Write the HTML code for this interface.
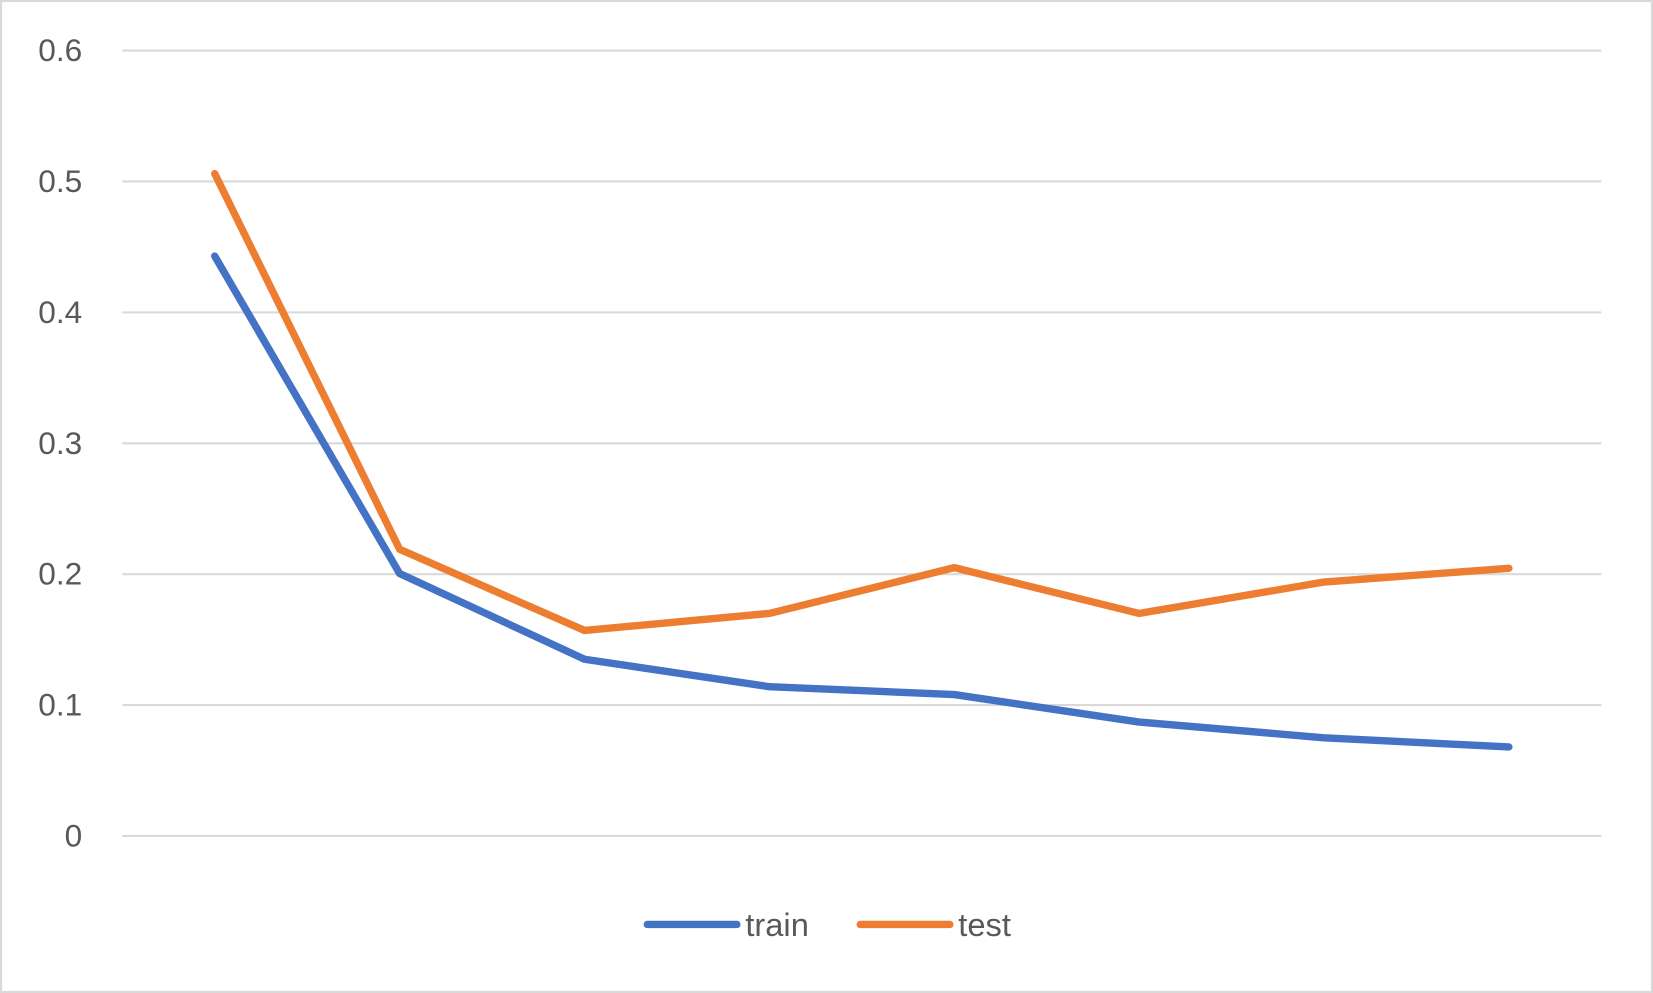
<!DOCTYPE html>
<html><head><meta charset="utf-8"><style>
html,body{margin:0;padding:0;background:#fff}
svg{display:block}
text{font-family:"Liberation Sans",sans-serif;fill:#595959}
</style></head><body>
<svg id="chart" width="1653" height="993" viewBox="0 0 1568 942" preserveAspectRatio="none" xmlns="http://www.w3.org/2000/svg">
<rect x="1" y="1" width="1566" height="940" fill="#fff" stroke="#d9d9d9" stroke-width="2"/>
<g id="grid"></g><g id="series"></g>
<g>
<line x1="614" y1="877" x2="699" y2="877" stroke="#4472C4" stroke-width="7" stroke-linecap="round"/>
<text x="707" y="888" font-size="31">train</text>
<line x1="816" y1="877" x2="901" y2="877" stroke="#ED7D31" stroke-width="7" stroke-linecap="round"/>
<text x="909" y="888" font-size="31">test</text>
</g>
</svg>
<script>
const categories=[1,2,3,4,5,6,7,8];
const trainValues=[0.443,0.2005,0.135,0.114,0.108,0.087,0.075,0.068];
const testValues=[0.506,0.219,0.157,0.170,0.205,0.170,0.194,0.2045];
const yTicks=[0,0.1,0.2,0.3,0.4,0.5,0.6];
const tickLabels=["0","0.1","0.2","0.3","0.4","0.5","0.6"];
const NS="http://www.w3.org/2000/svg";
const X0=116,X1=1519,Y0=793,Y1=48,YMAX=0.6;
function xs(i){const w=(X1-X0)/categories.length;return X0+w/2+i*w;}
function ys(v){return Y0-(v/YMAX)*(Y0-Y1);}
const grid=document.getElementById('grid');
yTicks.forEach((t,i)=>{
 const l=document.createElementNS(NS,'line');
 
 
 l.setAttribute('x1',X0);l.setAttribute('x2',X1);l.setAttribute('y1',ys(t));l.setAttribute('y2',ys(t));
 l.setAttribute('stroke','#d9d9d9');l.setAttribute('stroke-width','2');
 grid.appendChild(l);
 const tx=document.createElementNS(NS,'text');
 
 
 tx.setAttribute('x',78);tx.setAttribute('y',ys(t)+10);tx.setAttribute('text-anchor','end');tx.setAttribute('font-size','30');
 tx.textContent=tickLabels[i];
 grid.appendChild(tx);
});
const ser=document.getElementById('series');
[[trainValues,'#4472C4','train-line'],[testValues,'#ED7D31','test-line']].forEach(([vals,c,n])=>{
 const p=document.createElementNS(NS,'polyline');
 
 
 p.setAttribute('points',vals.map((v,i)=>xs(i)+','+ys(v)).join(' '));
 p.setAttribute('fill','none');p.setAttribute('stroke',c);p.setAttribute('stroke-width','7');
 p.setAttribute('stroke-linecap','round');p.setAttribute('stroke-linejoin','round');
 ser.appendChild(p);
});
</script>
</body></html>
